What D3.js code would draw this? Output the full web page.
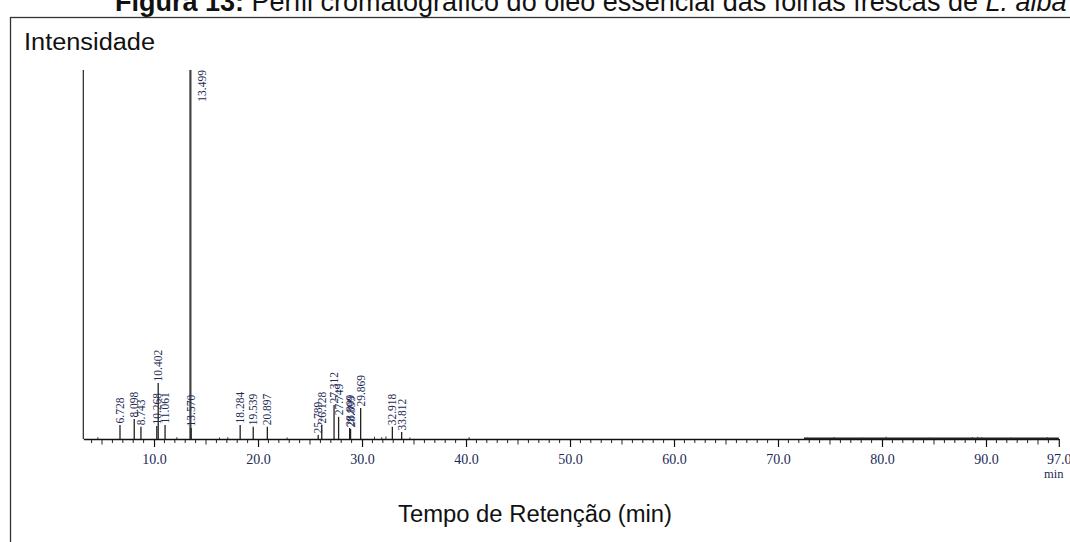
<!DOCTYPE html>
<html><head><meta charset="utf-8">
<script src="https://cdn.jsdelivr.net/npm/d3@7/dist/d3.min.js"></script>
<style>body{margin:0;background:#fff;}svg{display:block;}</style>
</head><body>
<script>
// Data (retention time in min, relative intensity %)
const peakTimes = [6.728, 8.098, 8.743, 10.268, 10.402, 11.061, 13.499, 13.570, 18.284, 19.539, 20.897, 25.789, 26.128, 27.312, 27.749, 28.809, 28.899, 29.869, 32.918, 33.812];
const peakHeights = [3.8, 5.4, 3.3, 3.5, 15.2, 3.8, 100, 3.0, 3.8, 3.3, 3.3, 1.1, 3.8, 9.2, 6.0, 3.0, 2.7, 8.4, 3.3, 1.9];
const peakLabels = ["6.728", "8.098", "8.743", "10.268", "10.402", "11.061", "13.499", "13.570", "18.284", "19.539", "20.897", "25.789", "26.128", "27.312", "27.749", "28.809", "28.899", "29.869", "32.918", "33.812"];
const noiseTimes = [4.6, 12.2, 16.3, 17.1, 22.8, 31.2, 31.9, 32.3, 34.6, 40.3, 72.8, 75.4, 78.1, 80.4, 84.6, 88.7, 89.2, 89.6, 92.4, 95.9];
const noiseHeights = [0.5, 0.5, 0.4, 0.5, 0.4, 0.6, 0.5, 0.7, 0.4, 0.5, 0.4, 0.5, 0.4, 0.6, 0.4, 0.5, 0.6, 0.5, 0.4, 0.5];
const majorTicks = [10, 20, 30, 40, 50, 60, 70, 80, 90, 97];
const tickLabels = ["10.0", "20.0", "30.0", "40.0", "50.0", "60.0", "70.0", "80.0", "90.0", "97.0"];
const xTitle = "Tempo de Retenção (min)";
const yTitle = "Intensidade";

const W = 1070, H = 542;
const svg = d3.select("body").append("svg").attr("width", W).attr("height", H);

// caption (cut at top, as in the reference)
const cap = svg.append("text").attr("x", 115).attr("y", 11)
  .attr("font-family", "Liberation Sans, Arial, sans-serif").attr("font-size", 27).attr("fill", "#111");
cap.append("tspan").attr("font-weight", "bold").text("Figura 13:");
cap.append("tspan").text(" Perfil cromatográfico do óleo essencial das folhas frescas de ");
cap.append("tspan").attr("font-style", "italic").text("L. alba");

// frame
svg.append("rect").attr("x", 10.5).attr("y", 17.5).attr("width", 1100).attr("height", 600)
  .attr("fill", "none").attr("stroke", "#333").attr("stroke-width", 1.3);

const x = d3.scaleLinear().domain([3.2, 97]).range([83.3, 1058.8]);
const y = d3.scaleLinear().domain([0, 100]).range([439, 70]);

const g = svg.append("g");

// minor ticks
const minor = d3.range(4, 97).filter(t => t % 10 !== 0);
g.append("g").selectAll("line").data(minor).join("line")
  .attr("x1", d => x(d)).attr("x2", d => x(d))
  .attr("y1", y(0)).attr("y2", d => y(0) + (d % 5 === 0 ? 5.5 : 4))
  .attr("stroke", "#222").attr("stroke-width", 1);

// major ticks + labels via axis
const axis = d3.axisBottom(x).tickValues(majorTicks).tickSize(8).tickSizeOuter(0)
  .tickFormat((d, i) => tickLabels[i]);
const ax = g.append("g").attr("transform", `translate(0,${y(0)})`).call(axis);
ax.select(".domain").attr("stroke", "#111").attr("stroke-width", 1.4);
ax.selectAll(".tick line").attr("stroke", "#111").attr("stroke-width", 1.2);
ax.selectAll(".tick text").attr("font-family", "Liberation Serif, Times New Roman, serif")
  .attr("font-size", 14).attr("fill", "#1d2a55").attr("dy", "1.0em");

// thicker noisy baseline region
g.append("line").attr("x1", x(72.5)).attr("x2", x(97)).attr("y1", y(0) - 0.6).attr("y2", y(0) - 0.6)
  .attr("stroke", "#222").attr("stroke-width", 1.6);

svg.append("text").attr("x", x(97) - 5).attr("y", 478).attr("text-anchor", "middle")
  .attr("font-family", "Liberation Serif, Times New Roman, serif").attr("font-size", 12.5).attr("fill", "#1d2a55").text("min");

// left axis line
g.append("line").attr("x1", x(3.2)).attr("x2", x(3.2)).attr("y1", y(100)).attr("y2", y(0))
  .attr("stroke", "#222").attr("stroke-width", 1.2);

// noise spikes
g.append("g").selectAll("line").data(noiseTimes).join("line")
  .attr("x1", d => x(d)).attr("x2", d => x(d))
  .attr("y1", y(0)).attr("y2", (d, i) => y(noiseHeights[i]))
  .attr("stroke", "#333").attr("stroke-width", 1);

// peaks
const peaks = peakTimes.map((t, i) => ({t, h: peakHeights[i], label: peakLabels[i]}));
g.append("g").selectAll("line").data(peaks).join("line")
  .attr("x1", d => x(d.t)).attr("x2", d => x(d.t))
  .attr("y1", y(0)).attr("y2", d => y(d.h))
  .attr("stroke", d => d.h >= 100 ? "#444" : "#222")
  .attr("stroke-width", d => d.h >= 100 ? 2.2 : 1.3);

// peak labels
g.append("g").selectAll("text").data(peaks).join("text")
  .attr("transform", d => d.h >= 100
    ? `translate(${x(d.t) + 12},${y(100)}) rotate(-90)`
    : `translate(${x(d.t)},${y(d.h) - 1.5}) rotate(-90)`)
  .attr("text-anchor", d => d.h >= 100 ? "end" : "start")
  .attr("dy", "0.35em")
  .attr("font-family", "Liberation Serif, Times New Roman, serif")
  .attr("font-size", 11.5).attr("fill", "#1d2a55")
  .text(d => d.label);

// titles
svg.append("text").attr("x", 24).attr("y", 50)
  .attr("font-family", "Liberation Sans, Arial, sans-serif").attr("font-size", 23)
  .attr("fill", "#111").attr("textLength", 131).attr("lengthAdjust", "spacingAndGlyphs").text(yTitle);
svg.append("text").attr("x", 398).attr("y", 522)
  .attr("font-family", "Liberation Sans, Arial, sans-serif").attr("font-size", 23.5)
  .attr("fill", "#111").attr("textLength", 274).attr("lengthAdjust", "spacingAndGlyphs").text(xTitle);
</script>
</body></html>
